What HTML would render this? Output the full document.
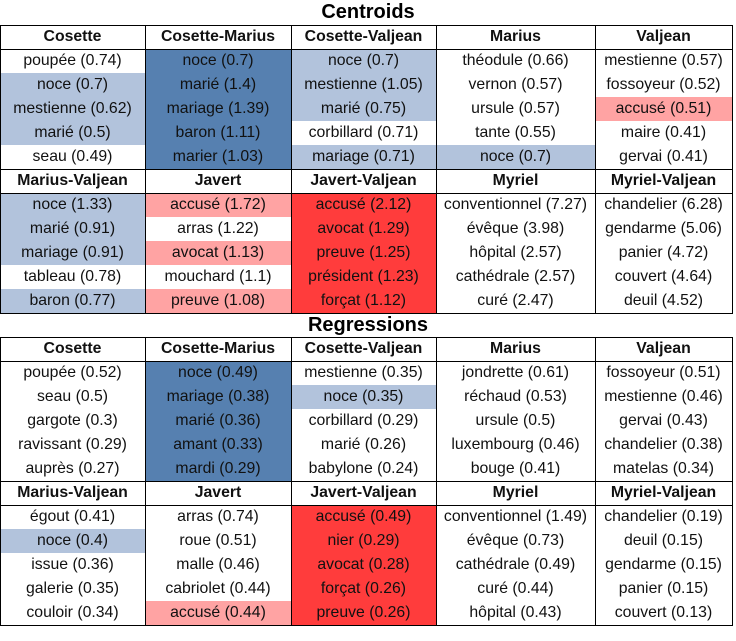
<!DOCTYPE html>
<html><head><meta charset="utf-8"><style>
body{margin:0;width:736px;height:641px;background:#fff;font-family:"Liberation Sans",sans-serif;position:relative;overflow:hidden}
.t{position:absolute;left:0;width:736px;text-align:center;font-weight:bold;font-size:20px}
.c{position:absolute;height:24px;line-height:24px;text-align:center;font-size:15.8px;color:#111;white-space:nowrap}
.h{font-weight:bold}
.L{background:#b2c3dc}.D{background:#5680b0}.P{background:#ffa3a3}.R{background:#ff3c3c}
.ln{position:absolute;background:#000}
</style></head><body>
<div class="t" style="top:1px">Centroids</div>
<div class="t" style="top:314px">Regressions</div>
<script>
const cols=[0,145,291,436,595,732];
const tables=[
{top:25,headers:[["Cosette","Cosette-Marius","Cosette-Valjean","Marius","Valjean"],["Marius-Valjean","Javert","Javert-Valjean","Myriel","Myriel-Valjean"]],
rows:[[["poupée (0.74)","noce (0.7)","mestienne (0.62)","marié (0.5)","seau (0.49)"],["noce (0.7)","marié (1.4)","mariage (1.39)","baron (1.11)","marier (1.03)"],["noce (0.7)","mestienne (1.05)","marié (0.75)","corbillard (0.71)","mariage (0.71)"],["théodule (0.66)","vernon (0.57)","ursule (0.57)","tante (0.55)","noce (0.7)"],["mestienne (0.57)","fossoyeur (0.52)","accusé (0.51)","maire (0.41)","gervai (0.41)"]],
[["noce (1.33)","marié (0.91)","mariage (0.91)","tableau (0.78)","baron (0.77)"],["accusé (1.72)","arras (1.22)","avocat (1.13)","mouchard (1.1)","preuve (1.08)"],["accusé (2.12)","avocat (1.29)","preuve (1.25)","président (1.23)","forçat (1.12)"],["conventionnel (7.27)","évêque (3.98)","hôpital (2.57)","cathédrale (2.57)","curé (2.47)"],["chandelier (6.28)","gendarme (5.06)","panier (4.72)","couvert (4.64)","deuil (4.52)"]]],
shade:[["_LLL_","DDDDD","LLL_L","____L","__P__"],["LLL_L","P_P_P","RRRRR","_____","_____"]]},
{top:337,headers:[["Cosette","Cosette-Marius","Cosette-Valjean","Marius","Valjean"],["Marius-Valjean","Javert","Javert-Valjean","Myriel","Myriel-Valjean"]],
rows:[[["poupée (0.52)","seau (0.5)","gargote (0.3)","ravissant (0.29)","auprès (0.27)"],["noce (0.49)","mariage (0.38)","marié (0.36)","amant (0.33)","mardi (0.29)"],["mestienne (0.35)","noce (0.35)","corbillard (0.29)","marié (0.26)","babylone (0.24)"],["jondrette (0.61)","réchaud (0.53)","ursule (0.5)","luxembourg (0.46)","bouge (0.41)"],["fossoyeur (0.51)","mestienne (0.46)","gervai (0.43)","chandelier (0.38)","matelas (0.34)"]],
[["égout (0.41)","noce (0.4)","issue (0.36)","galerie (0.35)","couloir (0.34)"],["arras (0.74)","roue (0.51)","malle (0.46)","cabriolet (0.44)","accusé (0.44)"],["accusé (0.49)","nier (0.29)","avocat (0.28)","forçat (0.26)","preuve (0.26)"],["conventionnel (1.49)","évêque (0.73)","cathédrale (0.49)","curé (0.44)","hôpital (0.43)"],["chandelier (0.19)","deuil (0.15)","gendarme (0.15)","panier (0.15)","couvert (0.13)"]]],
shade:[["_____","DDDDD","_L___","_____","_____"],["_L___","____P","RRRRR","_____","_____"]]}
];
function line(x,y,w,h){const d=document.createElement('div');d.className='ln';


d.style.cssText=`left:${x}px;top:${y}px;width:${w}px;height:${h}px`;document.body.appendChild(d);}
tables.forEach((tb,ti)=>{
  for(let s=0;s<2;s++){
    const y0=tb.top+s*144;
    for(let c=0;c<5;c++){
      const w=cols[c+1]-cols[c];
      const h=document.createElement('div');h.className='c h';
      
      
      h.style.cssText=`left:${cols[c]}px;top:${y0}px;width:${w}px`;h.textContent=tb.headers[s][c];document.body.appendChild(h);
      for(let r=0;r<5;r++){
        const e=document.createElement('div');
        const sh=tb.shade[s][c][r];
        e.className='c'+(sh!=='_'?' '+sh:'');
        
        
        e.style.cssText=`left:${cols[c]}px;top:${y0+24+r*24}px;width:${w}px`;
        e.textContent=tb.rows[s][c][r];document.body.appendChild(e);
      }
    }
    line(0,y0,733,1);line(0,y0+24,733,1);
  }
  line(0,tb.top+288,733,1);
  cols.forEach(x=>line(Math.min(x,732),tb.top,1,289));
});
</script>
</body></html>
